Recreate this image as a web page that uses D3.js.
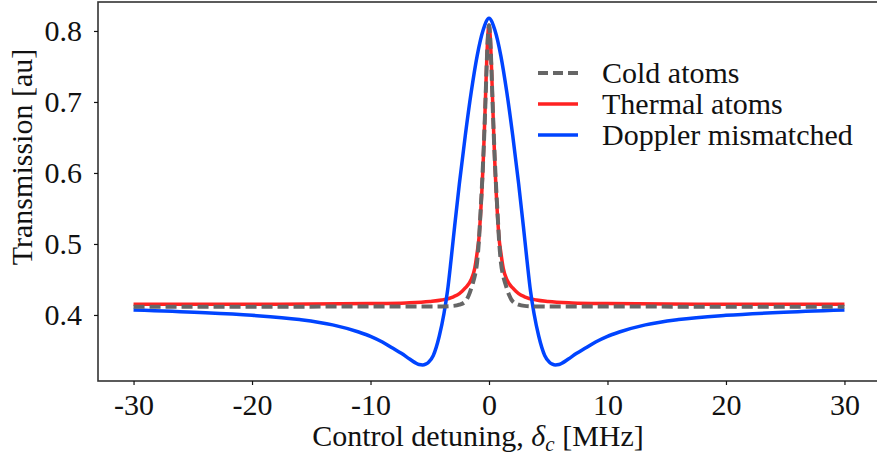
<html>
<head>
<meta charset="utf-8">
<title>Transmission vs control detuning</title>
<script src="https://cdn.jsdelivr.net/npm/d3@7"></script>
<style>
	body { margin: 0; background: #fff; }
	text { font-family: "Liberation Serif", "DejaVu Serif", serif; fill: #111; }
</style>
</head>
<body>
<div id="chart"></div>

<script>

	// detuning [MHz] and transmission [au]
	var cold_x = [-30, -20, -10, -6, -4, -3, -2.5, -2, -1.7, -1.4, -1.2, -1, -0.85, -0.7, -0.6, -0.5, -0.4, -0.3, -0.2, -0.1, 0,
		0.1, 0.2, 0.3, 0.4, 0.5, 0.6, 0.7, 0.85, 1, 1.2, 1.4, 1.7, 2, 2.5, 3, 4, 6, 10, 20, 30];
	var cold_y = [0.4117, 0.4117, 0.4118, 0.4118, 0.412, 0.4128, 0.4145, 0.419, 0.428, 0.443, 0.455, 0.475, 0.505, 0.55, 0.58, 0.615, 0.655, 0.70, 0.75, 0.79, 0.808,
		0.79, 0.75, 0.70, 0.655, 0.615, 0.58, 0.55, 0.505, 0.475, 0.455, 0.443, 0.428, 0.419, 0.4145, 0.4128, 0.412, 0.4118, 0.4118, 0.4117, 0.4117];

	var thermal_x = [-30, -20, -15, -10, -7, -5, -4, -3, -2.5, -2, -1.5, -1.2, -1, -0.85, -0.7, -0.6, -0.5, -0.4, -0.3, -0.2, -0.1, 0,
		0.1, 0.2, 0.3, 0.4, 0.5, 0.6, 0.7, 0.85, 1, 1.2, 1.5, 2, 2.5, 3, 4, 5, 7, 10, 15, 20, 30];
	var thermal_y = [0.4151, 0.4152, 0.4154, 0.416, 0.417, 0.4189, 0.421, 0.4256, 0.430, 0.438, 0.450, 0.466, 0.488, 0.508, 0.545, 0.575, 0.611, 0.655, 0.704, 0.754, 0.793, 0.808,
		0.793, 0.754, 0.704, 0.655, 0.611, 0.575, 0.545, 0.508, 0.488, 0.466, 0.450, 0.438, 0.430, 0.4256, 0.421, 0.4189, 0.417, 0.416, 0.4154, 0.4152, 0.4151];

	var doppler_x = [-30, -24.4, -20, -16, -13.2, -11, -10, -9, -8.1, -7.4, -6.7, -6.2, -5.9, -5.6, -5.35, -5.1, -4.7, -4.2, -3.8, -3.5, -3.2, -2.9, -2.5, -2, -1.5, -1, -0.5, 0,
		0.5, 1, 1.5, 2, 2.5, 2.9, 3.2, 3.5, 3.8, 4.2, 4.7, 5.1, 5.35, 5.6, 5.9, 6.2, 6.7, 7.4, 8.1, 9, 10, 11, 13.2, 16, 20, 24.4, 30];
	var doppler_y = [0.407, 0.4035, 0.3995, 0.3935, 0.386, 0.376, 0.370, 0.362, 0.353, 0.346, 0.338, 0.3325, 0.3302, 0.3296, 0.3307, 0.3335, 0.343, 0.370, 0.402, 0.434, 0.478, 0.525, 0.585, 0.653, 0.714, 0.765, 0.801, 0.818,
		0.801, 0.765, 0.714, 0.653, 0.585, 0.525, 0.478, 0.434, 0.402, 0.370, 0.343, 0.3335, 0.3307, 0.3296, 0.3302, 0.3325, 0.338, 0.346, 0.353, 0.362, 0.370, 0.376, 0.386, 0.3935, 0.3995, 0.4035, 0.407];

	var x_ticks = [-30, -20, -10, 0, 10, 20, 30];
	var y_ticks = [0.4, 0.5, 0.6, 0.7, 0.8];

	var series_names = ["Cold atoms", "Thermal atoms", "Doppler mismatched"];
	var series_colors = ["#666666", "#ff2222", "#0044ff"];

	var width = 877, height = 465;
	var x_left = 98, x_right = 880, y_top = 2, y_bottom = 381;

	var svg = d3.select("#chart").append("svg")
		.attr("width", width)
		.attr("height", height);

	var x = d3.scaleLinear().domain([-33, 33]).range([x_left, x_right]);
	var y = d3.scaleLinear().domain([0.307, 0.8408]).range([y_bottom, y_top]);

	// frame
	svg.append("rect")
		.attr("x", x_left)
		.attr("y", y_top)
		.attr("width", x_right - x_left)
		.attr("height", y_bottom - y_top)
		.attr("fill", "none")
		.attr("stroke", "#333")
		.attr("stroke-width", 1.6);

	// x axis
	var gx = svg.append("g")
		.attr("transform", "translate(0," + y_bottom + ")")
		.call(d3.axisBottom(x).tickValues(x_ticks).tickSize(4).tickPadding(10)
			.tickFormat(function(d) { return d < 0 ? "-" + Math.abs(d) : d; }));
	gx.select(".domain").remove();
	gx.selectAll("line").attr("stroke", "#111").attr("stroke-width", 1.2);
	gx.selectAll("text").attr("font-size", "30px").attr("dy", "0.68em");

	// y axis
	var gy = svg.append("g")
		.attr("transform", "translate(" + x_left + ",0)")
		.call(d3.axisLeft(y).tickValues(y_ticks).tickSize(4).tickPadding(12).tickFormat(d3.format(".1f")));
	gy.select(".domain").remove();
	gy.selectAll("line").attr("stroke", "#111").attr("stroke-width", 1.2);
	gy.selectAll("text").attr("font-size", "30px");

	// axis labels
	var xl = svg.append("text")
		.attr("x", 478)
		.attr("y", 446)
		.attr("font-size", "30px")
		.attr("text-anchor", "middle");
	xl.append("tspan").text("Control detuning, ");
	xl.append("tspan").attr("font-style", "italic").text("δ");
	xl.append("tspan").attr("font-style", "italic").attr("font-size", "21px").attr("dy", 5).text("c");
	xl.append("tspan").attr("dy", -5).text(" [MHz]");

	svg.append("text")
		.attr("transform", "translate(32,157) rotate(-90)")
		.attr("font-size", "30px")
		.attr("text-anchor", "middle")
		.text("Transmission [au]");

	// curves
	var line = d3.line()
		.x(function(d) { return x(d[0]); })
		.y(function(d) { return y(d[1]); })
		.curve(d3.curveMonotoneX);

	svg.append("clipPath").attr("id", "plot-clip")
		.append("rect")
		.attr("x", x_left).attr("y", y_top)
		.attr("width", x_right - x_left).attr("height", y_bottom - y_top);

	var plot = svg.append("g").attr("clip-path", "url(#plot-clip)");

	plot.append("path")
		.datum(d3.zip(thermal_x, thermal_y))
		.attr("d", line)
		.attr("fill", "none")
		.attr("stroke", series_colors[1])
		.attr("stroke-width", 3.5);

	plot.append("path")
		.datum(d3.zip(doppler_x, doppler_y))
		.attr("d", line)
		.attr("fill", "none")
		.attr("stroke", series_colors[2])
		.attr("stroke-width", 3.5);

	plot.append("path")
		.datum(d3.zip(cold_x, cold_y))
		.attr("d", line)
		.attr("fill", "none")
		.attr("stroke", series_colors[0])
		.attr("stroke-width", 4)
		.attr("stroke-dasharray", "11,5");

	// legend
	var legend = svg.append("g").attr("transform", "translate(538,73)");
	var rows = legend.selectAll("g")
		.data(series_names)
		.enter()
		.append("g")
		.attr("transform", function(d, i) { return "translate(0," + (i * 31) + ")"; });

	rows.append("line")
		.attr("x1", 0).attr("x2", 40)
		.attr("stroke", function(d, i) { return series_colors[i]; })
		.attr("stroke-width", function(d, i) { return i == 0 ? 4 : 3.5; })
		.attr("stroke-dasharray", function(d, i) { return i == 0 ? "10,5" : null; });

	rows.append("text")
		.attr("x", 64)
		.attr("dy", "0.33em")
		.attr("font-size", "30px")
		.text(function(d) { return d; });

</script>
</body>
</html>
